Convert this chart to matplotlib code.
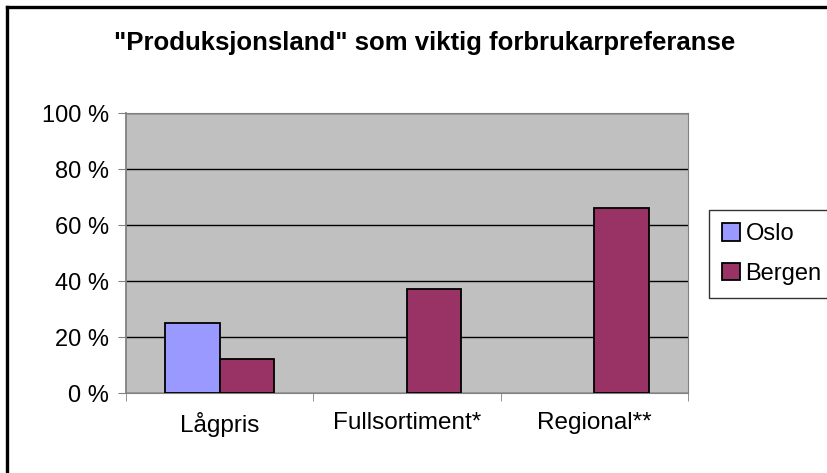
import matplotlib.pyplot as plt
import numpy as np
from matplotlib.lines import Line2D

categories = ['Lågpris', 'Fullsortiment*', 'Regional**']
oslo = [25, 0, 0]
bergen = [12, 37, 66]
yticks = [0, 20, 40, 60, 80, 100]
ytick_labels = ['0 %', '20 %', '40 %', '60 %', '80 %', '100 %']

plt.rcParams['font.family'] = ['Liberation Sans', 'DejaVu Sans']

W, H = 828, 473
fig = plt.figure(figsize=(W / 100, H / 100), dpi=100)
ax = fig.add_axes([126 / W, 1 - 393 / H, (688 - 126) / W, 280 / H])

# chart border: only the top and left edges are inside the picture
fig.lines.append(Line2D([7 / W, 1.01], [1 - 7 / H, 1 - 7 / H], transform=fig.transFigure,
                        color='black', linewidth=2.4))
fig.lines.append(Line2D([7 / W, 7 / W], [-0.01, 1 - 7 / H], transform=fig.transFigure,
                        color='black', linewidth=2.4))

x = np.arange(len(categories))
w = 0.29
oslo_h = [v if v > 0 else np.nan for v in oslo]
bergen_h = [v if v > 0 else np.nan for v in bergen]
ax.set_facecolor('#C0C0C0')
ax.bar(x - w / 2, oslo_h, w, color='#9999FF', edgecolor='black', linewidth=1.3, label='Oslo', zorder=3)
ax.bar(x + w / 2, bergen_h, w, color='#993366', edgecolor='black', linewidth=1.3, label='Bergen', zorder=3)

ax.set_xlim(-0.5, 2.5)
ax.set_ylim(0, 100)
ax.set_yticks(yticks)
ax.set_yticklabels(ytick_labels, fontsize=17)
ax.yaxis.grid(True, color='black', linewidth=1)
ax.set_axisbelow(True)

ax.set_xticks(x)
ax.set_xticklabels(categories, fontsize=17.5)
ax.tick_params(axis='x', length=0, pad=14)
ax.set_xticks([-0.5, 0.5, 1.5, 2.5], minor=True)
ax.tick_params(axis='x', which='minor', length=6, direction='out', color='#808080')
ax.tick_params(axis='y', length=6, direction='out', color='#808080', pad=6)

for side in ['top', 'right', 'left', 'bottom']:
    ax.spines[side].set_color('#808080')
ax.spines['left'].set_linewidth(1.3)

fig.text(425 / W, 1 - 43 / H, '"Produksjonsland" som viktig forbrukarpreferanse',
         ha='center', va='center', fontsize=18.5, fontweight='bold')

leg = fig.legend(loc='center left', bbox_to_anchor=(709 / W, 1 - 254 / H), fontsize=17,
                 frameon=True, fancybox=False, edgecolor='black', handlelength=0.75, handleheight=0.75,
                 handletextpad=0.25, borderpad=0.55, labelspacing=0.75, borderaxespad=0)
leg.get_frame().set_linewidth(1)

fig.savefig('out.png', dpi=100)
